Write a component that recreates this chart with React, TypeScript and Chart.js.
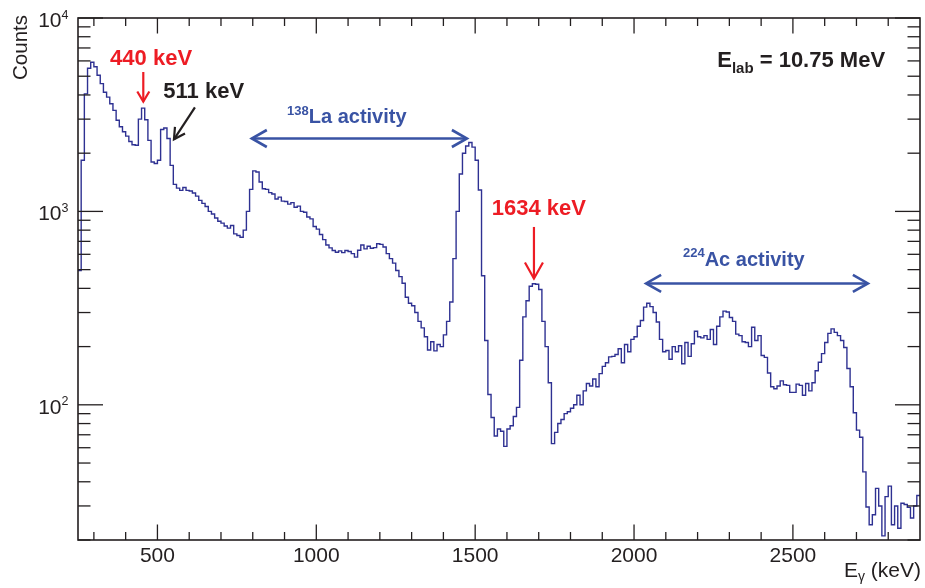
import { useEffect, useRef } from "react";
import { Chart, registerables } from "chart.js";

Chart.register(...registerables);

// ---------- data (counts per 10 keV bin) ----------
const binLowEdgeKeV = 250;
const binWidthKeV = 10;

const counts250to690 = [
  495, 1840, 4050, 5500, 5900,
  5600, 5060, 4580, 4130, 3900, 3600, 3330, 2960, 2740, 2580,
  2450, 2300, 2210, 2200, 3000, 3420, 2980, 2330, 1800, 1770,
  1840, 2650, 2700, 2380, 1730, 1380, 1320, 1285, 1330, 1285,
  1275, 1245, 1200, 1140, 1100, 1060, 1000, 970, 925, 890,
];
const counts700to1290 = [
  870, 840, 820, 845, 765, 750, 735, 800, 1000, 1300,
  1620, 1600, 1420, 1310, 1300, 1250, 1230, 1160, 1185, 1130,
  1125, 1090, 1110, 1050, 1065, 1000, 990, 935, 915, 835,
  810, 760, 715, 670, 648, 628, 615, 625, 612, 628,
  620, 605, 580, 630, 670, 640, 660, 645, 650, 680,
  675, 655, 605, 570, 540, 495, 460, 425, 360, 335,
];
const counts1300to1890 = [
  325, 300, 270, 250, 225, 192, 212, 190, 205, 200,
  230, 270, 340, 570, 1000, 1560, 2000, 2180, 2270, 2150,
  1840, 1290, 465, 215, 113, 86, 69, 75, 73, 61,
  75, 78, 87, 97, 170, 285, 345, 410, 423, 420,
  395, 270, 200, 130, 63, 72, 80, 84, 90, 92,
  96, 100, 112, 100, 118, 129, 125, 136, 124, 145,
];
const counts1900to2490 = [
  158, 165, 177, 178, 182, 195, 165, 205, 188, 218,
  225, 255, 273, 320, 335, 322, 300, 268, 218, 188,
  191, 172, 200, 188, 202, 163, 210, 178, 207, 240,
  225, 222, 228, 218, 245, 205, 255, 285, 305, 302,
  283, 270, 232, 228, 212, 210, 200, 252, 215, 228,
  180, 176, 146, 124, 121, 125, 133, 127, 126, 116,
];
const counts2500to2890 = [
  116, 128, 126, 112, 129, 118, 130, 150, 166, 184,
  210, 234, 247, 237, 228, 215, 198, 154, 124, 91,
  74, 68, 45, 29.6, 24, 27, 37, 30, 21, 33.5,
  38, 24, 30, 23, 31, 30.5, 29.5, 26, 30, 34,
];

const xMinKeV = 250;
const xMaxKeV = 2900;
const yMinCounts = 20;
const yMaxCounts = 10000;
const xMajorTicks = [500, 1000, 1500, 2000, 2500];
const xTickLabels = ["500", "1000", "1500", "2000", "2500"];
const xMinorStepKeV = 100;
const yDecadeExponents = [2, 3, 4];

const xAxisTitle = { main: "E", sub: "\u03b3", rest: " (keV)" };
const yAxisTitle = "Counts";

// annotations, anchored in data coordinates (keV, counts)
const label440 = { text: "440 keV", keV: 351, counts: 5715, arrowKeV: 455.5, tail: 5258, tip: 3700 };
const label511 = { text: "511 keV", keV: 518.5, counts: 3858, tailKeV: 618, tailCounts: 3453, tipKeV: 552, tipCounts: 2359 };
const label1634 = { text: "1634 keV", keV: 1552, counts: 958, arrowKeV: 1685, tail: 831, tip: 450 };
const labelLa = { sup: "138", text: "La activity", keV: 908, counts: 2848, fromKeV: 797, toKeV: 1474, arrowCounts: 2382 };
const labelAc = { sup: "224", text: "Ac activity", keV: 2154, counts: 525, fromKeV: 2038, toKeV: 2736, arrowCounts: 424 };
const labelBeam = { main: "E", sub: "lab", rest: " = 10.75 MeV", rightKeV: 2790, counts: 5581 };

// ---------- styles ----------
const FONT = '"Liberation Sans", Arial, Helvetica, sans-serif';
const INK = "#231f20";
const LINE = "#2e3192";
const RED = "#ed1c24";
const BLUE = "#3953a4";

type Run = { text: string; font: string; dy: number };

function runsWidth(ctx: CanvasRenderingContext2D, runs: Run[]) {
  let w = 0;
  for (const r of runs) {
    ctx.font = r.font;
    w += ctx.measureText(r.text).width;
  }
  return w;
}

function drawRuns(ctx: CanvasRenderingContext2D, x: number, y: number, runs: Run[]) {
  let cx = x;
  ctx.textAlign = "left";
  ctx.textBaseline = "alphabetic";
  for (const r of runs) {
    ctx.font = r.font;
    ctx.fillText(r.text, cx, y + r.dy);
    cx += ctx.measureText(r.text).width;
  }
}

function arrowHead(
  ctx: CanvasRenderingContext2D,
  fromX: number,
  fromY: number,
  tipX: number,
  tipY: number,
  len: number,
  half: number
) {
  const ang = Math.atan2(tipY - fromY, tipX - fromX);
  const c = Math.cos(ang);
  const s = Math.sin(ang);
  const bx = tipX - len * c;
  const by = tipY - len * s;
  ctx.beginPath();
  ctx.moveTo(bx - half * s, by + half * c);
  ctx.lineTo(tipX, tipY);
  ctx.lineTo(bx + half * s, by - half * c);
  ctx.stroke();
}

function seg(ctx: CanvasRenderingContext2D, x1: number, y1: number, x2: number, y2: number) {
  ctx.beginPath();
  ctx.moveTo(x1, y1);
  ctx.lineTo(x2, y2);
  ctx.stroke();
}

const rootStyle = {
  id: "rootStyle",
  afterDatasetsDraw(chart: any) {
    const { ctx, chartArea: a } = chart;
    const xs = chart.scales.x;
    const ys = chart.scales.y;
    const X = (v: number) => xs.getPixelForValue(v);
    const Y = (v: number) => ys.getPixelForValue(v);
    ctx.save();

    // frame
    ctx.strokeStyle = INK;
    ctx.lineWidth = 1.6;
    ctx.strokeRect(a.left, a.top, a.right - a.left, a.bottom - a.top);

    // x ticks (bottom and top, inside)
    ctx.lineWidth = 1.3;
    for (let v = xMinKeV + 50; v < xMaxKeV; v += xMinorStepKeV) {
      const px = X(v);
      const major = xMajorTicks.includes(v);
      const len = major ? 15.5 : 8;
      seg(ctx, px, a.bottom, px, a.bottom - len);
      seg(ctx, px, a.top, px, a.top + len);
    }
    // y ticks (left and right, inside)
    for (const e of [1, 2, 3, 4]) {
      for (let m = 1; m <= 9; m++) {
        const v = m * Math.pow(10, e);
        if (v < yMinCounts || v > yMaxCounts) continue;
        const py = Y(v);
        const len = m === 1 ? 25 : 12.5;
        seg(ctx, a.left, py, a.left + len, py);
        seg(ctx, a.right, py, a.right - len, py);
      }
    }

    // x tick labels
    ctx.fillStyle = INK;
    ctx.font = `21px ${FONT}`;
    ctx.textAlign = "center";
    ctx.textBaseline = "alphabetic";
    xMajorTicks.forEach((v, i) => ctx.fillText(xTickLabels[i], X(v), a.bottom + 21.5));

    // y tick labels 10^n
    for (const e of yDecadeExponents) {
      const py = Y(Math.pow(10, e));
      const runs: Run[] = [
        { text: "10", font: `21px ${FONT}`, dy: 0 },
        { text: String(e), font: `12.5px ${FONT}`, dy: -8.5 },
      ];
      const w = runsWidth(ctx, runs);
      drawRuns(ctx, a.left - 9.5 - w, py + 9, runs);
    }

    // axis titles
    ctx.save();
    ctx.translate(26.5, 15);
    ctx.rotate(-Math.PI / 2);
    ctx.font = `20.5px ${FONT}`;
    ctx.textAlign = "right";
    ctx.textBaseline = "alphabetic";
    ctx.fillText(yAxisTitle, 0, 0);
    ctx.restore();

    const xt: Run[] = [
      { text: xAxisTitle.main, font: `21px ${FONT}`, dy: 0 },
      { text: xAxisTitle.sub, font: `14px ${FONT}`, dy: 4 },
      { text: xAxisTitle.rest, font: `21px ${FONT}`, dy: 0 },
    ];
    drawRuns(ctx, 921 - runsWidth(ctx, xt), 577, xt);

    // --- annotations ---
    const bold = (s: number) => `bold ${s}px ${FONT}`;

    // 440 keV
    ctx.fillStyle = RED;
    ctx.strokeStyle = RED;
    ctx.lineWidth = 2.2;
    drawRuns(ctx, X(label440.keV), Y(label440.counts), [{ text: label440.text, font: bold(22), dy: 0 }]);
    {
      const x = X(label440.arrowKeV);
      seg(ctx, x, Y(label440.tail), x, Y(label440.tip));
      arrowHead(ctx, x, Y(label440.tail), x, Y(label440.tip), 10, 6);
    }

    // 1634 keV
    drawRuns(ctx, X(label1634.keV), Y(label1634.counts), [{ text: label1634.text, font: bold(22), dy: 0 }]);
    {
      const x = X(label1634.arrowKeV);
      seg(ctx, x, Y(label1634.tail), x, Y(label1634.tip));
      arrowHead(ctx, x, Y(label1634.tail), x, Y(label1634.tip), 16, 9);
    }

    // 511 keV
    ctx.fillStyle = INK;
    ctx.strokeStyle = INK;
    drawRuns(ctx, X(label511.keV), Y(label511.counts), [{ text: label511.text, font: bold(22), dy: 0 }]);
    {
      const x1 = X(label511.tailKeV), y1 = Y(label511.tailCounts);
      const x2 = X(label511.tipKeV), y2 = Y(label511.tipCounts);
      seg(ctx, x1, y1, x2, y2);
      arrowHead(ctx, x1, y1, x2, y2, 11, 6);
    }

    // E_lab
    {
      const runs: Run[] = [
        { text: labelBeam.main, font: bold(22), dy: 0 },
        { text: labelBeam.sub, font: bold(15), dy: 6 },
        { text: labelBeam.rest, font: bold(22), dy: 0 },
      ];
      drawRuns(ctx, X(labelBeam.rightKeV) - runsWidth(ctx, runs), Y(labelBeam.counts), runs);
    }

    // activity ranges
    ctx.fillStyle = BLUE;
    ctx.strokeStyle = BLUE;
    ctx.lineWidth = 2.6;
    for (const l of [labelLa, labelAc]) {
      drawRuns(ctx, X(l.keV), Y(l.counts), [
        { text: l.sup, font: bold(13), dy: -8.5 },
        { text: l.text, font: bold(20), dy: 0 },
      ]);
      const y = Y(l.arrowCounts);
      const x1 = X(l.fromKeV);
      const x2 = X(l.toKeV);
      seg(ctx, x1, y, x2, y);
      arrowHead(ctx, x2, y, x1, y, 15, 8.5);
      arrowHead(ctx, x1, y, x2, y, 15, 8.5);
    }

    ctx.restore();
  },
};

export default function App() {
  const ref = useRef<HTMLCanvasElement | null>(null);

  useEffect(() => {
    const canvas = ref.current;
    if (!canvas) return;
    const counts = [
      ...counts250to690,
      ...counts700to1290,
      ...counts1300to1890,
      ...counts1900to2490,
      ...counts2500to2890,
    ];
    const points = counts.map((c, i) => ({ x: binLowEdgeKeV + i * binWidthKeV, y: c }));
    points.push({ x: binLowEdgeKeV + counts.length * binWidthKeV, y: counts[counts.length - 1] });

    const chart = new Chart(canvas, {
      type: "line",
      data: {
        datasets: [
          {
            data: points,
            borderColor: LINE,
            borderWidth: 1.4,
            pointRadius: 0,
            stepped: "before",
            fill: false,
            tension: 0,
          },
        ],
      },
      options: {
        animation: false,
        responsive: false,
        maintainAspectRatio: false,
        devicePixelRatio: 1,
        events: [],
        layout: { padding: { left: 78, right: 5, top: 18, bottom: 48 } },
        scales: {
          x: { type: "linear", min: xMinKeV, max: xMaxKeV, display: false },
          y: { type: "logarithmic", min: yMinCounts, max: yMaxCounts, display: false },
        },
        plugins: { legend: { display: false }, tooltip: { enabled: false } },
      },
      plugins: [rootStyle],
    } as any);
    return () => chart.destroy();
  }, []);

  return (
    <div style={{ position: "absolute", left: 0, top: 0, width: 925, height: 588, background: "#fff" }}>
      <canvas ref={ref} width={925} height={588} style={{ display: "block", width: 925, height: 588 }} />
    </div>
  );
}
